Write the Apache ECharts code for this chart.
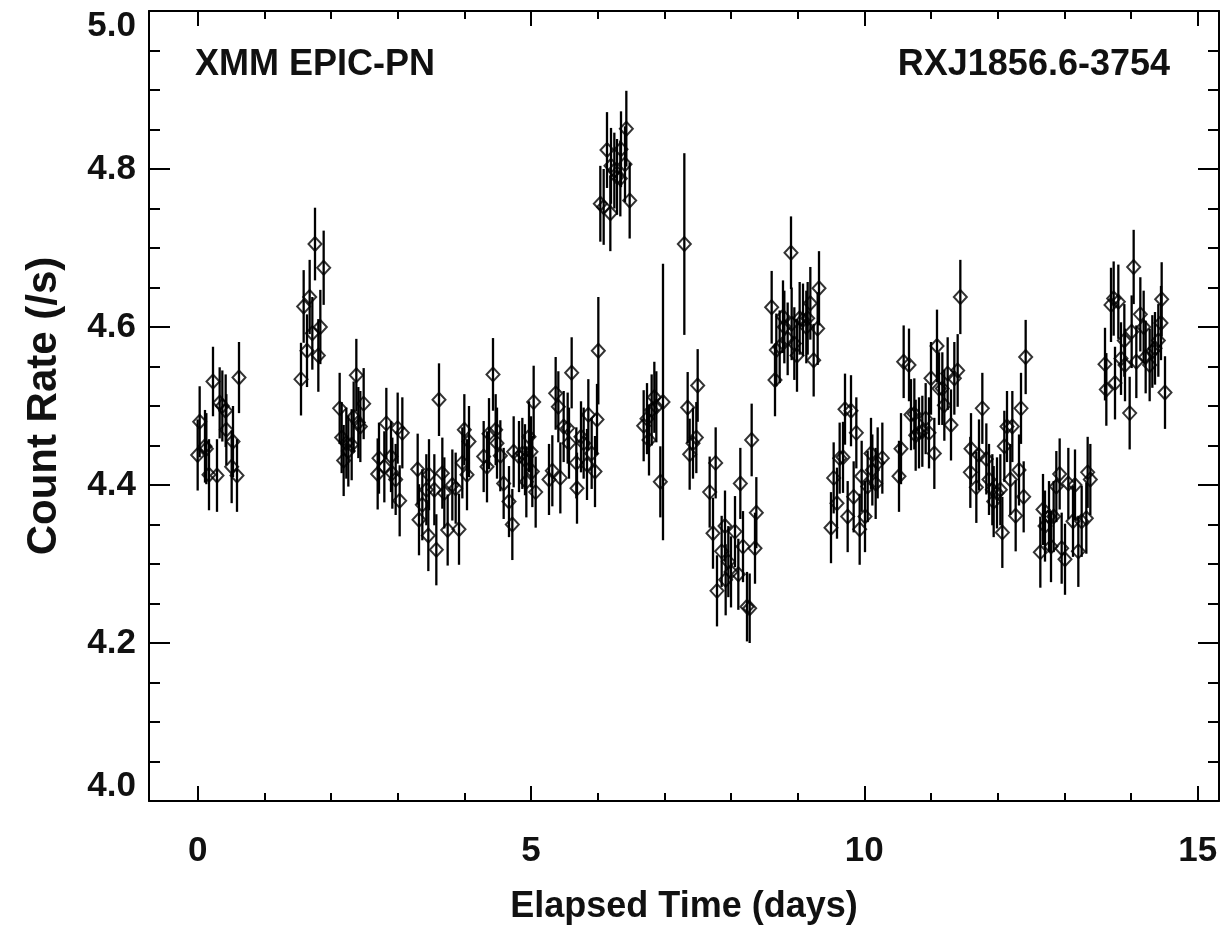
<!DOCTYPE html>
<html>
<head>
<meta charset="utf-8">
<script src="https://cdn.jsdelivr.net/npm/echarts@6/dist/echarts.min.js"></script>
<style>
  html, body { margin: 0; padding: 0; background: #fff; }
  #main { width: 1223px; height: 926px; }
</style>
</head>
<body>
<div id="main"></div>
<script>
// elapsed time (days), count rate (/s) and 1-sigma error
const elapsedDays = [
  0.00, 0.03, 0.11, 0.13, 0.17, 0.23, 0.29, 0.33, 0.37, 0.42, 0.43, 0.51, 0.53, 0.59, 0.62,
  1.55, 1.59, 1.64, 1.68, 1.72, 1.76, 1.81, 1.84, 1.89,
  2.13, 2.16, 2.19, 2.23, 2.26, 2.31, 2.34, 2.38, 2.41, 2.44, 2.49,
  2.70, 2.72, 2.80, 2.83, 2.90, 2.92, 2.97, 3.00, 3.03, 3.07,
  3.30, 3.32, 3.37, 3.43, 3.46, 3.47, 3.55, 3.58, 3.62, 3.67, 3.70, 3.75, 3.82, 3.87, 3.92, 3.97, 4.00, 4.04, 4.07,
  4.29, 4.34, 4.37, 4.43, 4.47, 4.49, 4.54, 4.59, 4.67, 4.72, 4.74, 4.82, 4.87, 4.91, 4.93, 4.97, 5.00, 5.02, 5.04, 5.07,
  5.27, 5.32, 5.37, 5.41, 5.44, 5.49, 5.55, 5.57, 5.61, 5.68, 5.69, 5.75, 5.79, 5.84, 5.86, 5.91, 5.96, 5.99, 6.01,
  6.04, 6.09, 6.14, 6.19, 6.20, 6.25, 6.29, 6.34, 6.35, 6.41, 6.43, 6.48,
  6.69, 6.74, 6.77, 6.81, 6.85, 6.88, 6.94, 6.98,
  7.30, 7.35, 7.38, 7.43, 7.48, 7.50,
  7.68, 7.73, 7.77, 7.79, 7.86, 7.91, 7.92, 7.96, 8.00, 8.06, 8.11, 8.14, 8.18, 8.24, 8.28, 8.31, 8.36, 8.38,
  8.61, 8.66, 8.68, 8.73, 8.78, 8.80, 8.85, 8.90, 8.91, 8.95, 8.99, 9.03, 9.08, 9.13, 9.15, 9.19, 9.24, 9.30, 9.32,
  9.50, 9.54, 9.59, 9.63, 9.68, 9.71, 9.75, 9.80, 9.84, 9.88, 9.93, 9.96, 10.01, 10.05, 10.10, 10.12, 10.17, 10.20, 10.27,
  10.52, 10.55, 10.59, 10.67, 10.70, 10.75, 10.77, 10.82, 10.87, 10.92, 10.97, 11.00, 11.05, 11.09, 11.12, 11.17, 11.20, 11.25, 11.30, 11.35, 11.40, 11.44,
  11.59, 11.60, 11.68, 11.72, 11.77, 11.83, 11.87, 11.92, 11.94, 11.99, 12.04, 12.07, 12.10, 12.14, 12.19, 12.22, 12.27, 12.32, 12.35, 12.39, 12.42,
  12.64, 12.68, 12.71, 12.77, 12.80, 12.84, 12.88, 12.93, 12.96, 13.01, 13.06, 13.13, 13.16, 13.21, 13.26, 13.33, 13.35, 13.39,
  13.61, 13.63, 13.70, 13.74, 13.76, 13.81, 13.85, 13.90, 13.91, 13.98, 14.01, 14.04, 14.08, 14.14, 14.19, 14.22, 14.28, 14.32, 14.36, 14.41, 14.45, 14.46, 14.51
];

const countRate = [
  4.438, 4.480, 4.449, 4.446, 4.413, 4.531, 4.412, 4.504, 4.500, 4.494, 4.470, 4.423, 4.455, 4.412, 4.536,
  4.534, 4.626, 4.570, 4.638, 4.592, 4.705, 4.564, 4.600, 4.675,
  4.497, 4.460, 4.431, 4.453, 4.443, 4.451, 4.486, 4.539, 4.479, 4.474, 4.503,
  4.414, 4.434, 4.423, 4.478, 4.436, 4.415, 4.407, 4.472, 4.380, 4.466,
  4.420, 4.356, 4.375, 4.394, 4.336, 4.413, 4.394, 4.318, 4.508, 4.415, 4.390, 4.343, 4.400, 4.396, 4.344, 4.428, 4.470, 4.413, 4.455,
  4.436, 4.423, 4.465, 4.540, 4.470, 4.453, 4.437, 4.402, 4.379, 4.350, 4.442, 4.436, 4.440, 4.432, 4.404, 4.461, 4.442, 4.417, 4.505, 4.391,
  4.407, 4.418, 4.516, 4.499, 4.409, 4.474, 4.472, 4.453, 4.542, 4.428, 4.396, 4.461, 4.453, 4.426, 4.489, 4.440, 4.417, 4.483, 4.570,
  4.756, 4.752, 4.824, 4.744, 4.804, 4.798, 4.790, 4.788, 4.825, 4.806, 4.851, 4.760,
  4.475, 4.484, 4.457, 4.495, 4.511, 4.499, 4.404, 4.505,
  4.705, 4.498, 4.439, 4.453, 4.460, 4.526,
  4.391, 4.339, 4.428, 4.266, 4.316, 4.348, 4.280, 4.303, 4.290, 4.341, 4.287, 4.402, 4.322, 4.246, 4.244, 4.457, 4.320, 4.365,
  4.625, 4.533, 4.571, 4.575, 4.613, 4.600, 4.585, 4.694, 4.604, 4.579, 4.564, 4.611, 4.609, 4.600, 4.611, 4.630, 4.558, 4.598, 4.649,
  4.346, 4.409, 4.377, 4.434, 4.435, 4.496, 4.360, 4.494, 4.385, 4.466, 4.344, 4.411, 4.360, 4.398, 4.440, 4.419, 4.402, 4.428, 4.434,
  4.411, 4.446, 4.556, 4.552, 4.489, 4.490, 4.463, 4.466, 4.468, 4.484, 4.466, 4.535, 4.440, 4.576, 4.522, 4.522, 4.501, 4.541, 4.476, 4.535, 4.545, 4.638,
  4.416, 4.446, 4.397, 4.438, 4.497, 4.433, 4.407, 4.394, 4.379, 4.390, 4.394, 4.340, 4.449, 4.474, 4.407, 4.474, 4.361, 4.419, 4.497, 4.385, 4.562,
  4.315, 4.369, 4.348, 4.360, 4.322, 4.360, 4.398, 4.414, 4.320, 4.306, 4.402, 4.354, 4.400, 4.316, 4.354, 4.358, 4.416, 4.407,
  4.553, 4.521, 4.628, 4.636, 4.529, 4.632, 4.560, 4.583, 4.552, 4.491, 4.594, 4.676, 4.556, 4.616, 4.600, 4.562, 4.552, 4.569, 4.573, 4.583, 4.605, 4.635, 4.517
];

const rateErr = [
  0.045, 0.045, 0.046, 0.045, 0.045, 0.044, 0.046, 0.045, 0.045, 0.046, 0.045, 0.046, 0.045, 0.046, 0.045,
  0.046, 0.046, 0.046, 0.047, 0.046, 0.046, 0.046, 0.047, 0.047,
  0.045, 0.045, 0.045, 0.045, 0.045, 0.045, 0.045, 0.046, 0.045, 0.045, 0.045,
  0.045, 0.045, 0.045, 0.045, 0.045, 0.045, 0.045, 0.045, 0.045, 0.045,
  0.045, 0.045, 0.045, 0.045, 0.045, 0.045, 0.045, 0.045, 0.046, 0.045, 0.045, 0.045, 0.045, 0.045, 0.045, 0.045, 0.045, 0.045, 0.045,
  0.045, 0.045, 0.045, 0.046, 0.045, 0.045, 0.045, 0.045, 0.045, 0.045, 0.045, 0.045, 0.045, 0.045, 0.045, 0.045, 0.045, 0.045, 0.046, 0.045,
  0.045, 0.045, 0.046, 0.045, 0.045, 0.045, 0.045, 0.045, 0.045, 0.045, 0.045, 0.045, 0.045, 0.045, 0.045, 0.045, 0.045, 0.045, 0.068,
  0.048, 0.048, 0.048, 0.048, 0.048, 0.048, 0.048, 0.048, 0.048, 0.048, 0.048, 0.048,
  0.045, 0.045, 0.045, 0.045, 0.045, 0.045, 0.045, 0.175,
  0.115, 0.045, 0.045, 0.045, 0.045, 0.046,
  0.045, 0.045, 0.045, 0.045, 0.045, 0.045, 0.045, 0.045, 0.045, 0.045, 0.045, 0.045, 0.045, 0.044, 0.044, 0.046, 0.045, 0.045,
  0.046, 0.046, 0.046, 0.046, 0.046, 0.046, 0.046, 0.046, 0.046, 0.046, 0.046, 0.046, 0.046, 0.046, 0.046, 0.046, 0.046, 0.046, 0.047,
  0.045, 0.045, 0.045, 0.045, 0.045, 0.045, 0.045, 0.045, 0.045, 0.045, 0.045, 0.045, 0.045, 0.045, 0.045, 0.045, 0.045, 0.045, 0.045,
  0.045, 0.045, 0.046, 0.046, 0.045, 0.045, 0.045, 0.045, 0.045, 0.045, 0.045, 0.046, 0.045, 0.046, 0.046, 0.046, 0.045, 0.046, 0.045, 0.046, 0.046, 0.047,
  0.045, 0.045, 0.045, 0.045, 0.045, 0.045, 0.045, 0.045, 0.045, 0.045, 0.045, 0.045, 0.045, 0.045, 0.045, 0.045, 0.045, 0.045, 0.045, 0.045, 0.047,
  0.045, 0.045, 0.045, 0.045, 0.045, 0.045, 0.045, 0.045, 0.045, 0.045, 0.045, 0.045, 0.045, 0.045, 0.045, 0.045, 0.045, 0.045,
  0.046, 0.046, 0.047, 0.047, 0.046, 0.047, 0.046, 0.046, 0.046, 0.046, 0.046, 0.047, 0.046, 0.047, 0.046, 0.046, 0.046, 0.046, 0.046, 0.046, 0.047, 0.047, 0.046
];

const majorDays = [0, 5, 10, 15];
const minorDays = [1, 2, 3, 4, 6, 7, 8, 9, 11, 12, 13, 14];

const FONT = '"Liberation Sans", Arial, Helvetica, sans-serif';
const INK = '#111';

const points = elapsedDays.map((t, i) => [t, countRate[i]]);
const bars = elapsedDays.map((t, i) => [t, countRate[i] - rateErr[i], countRate[i] + rateErr[i]]);

function renderErrorBar(params, api) {
  const lo = api.coord([api.value(0), api.value(1)]);
  const hi = api.coord([api.value(0), api.value(2)]);
  return {
    type: 'line',
    shape: { x1: lo[0], y1: lo[1], x2: hi[0], y2: hi[1] },
    style: { stroke: '#000', lineWidth: 2.3 }
  };
}

function timeAxis(position, ticks, len, opts) {
  return Object.assign({
    type: 'value',
    position: position,
    min: -0.73,
    max: 15.32,
    splitLine: { show: false },
    axisLine: { show: false },
    axisTick: { show: true, inside: true, length: len, customValues: ticks, lineStyle: { color: '#000', width: 2 } },
    axisLabel: { show: false }
  }, opts || {});
}

function rateAxis(position, opts) {
  return Object.assign({
    type: 'value',
    position: position,
    min: 4.0,
    max: 5.0,
    interval: 0.2,
    splitLine: { show: false },
    axisLine: { show: true, onZero: false, lineStyle: { color: '#000', width: 2 } },
    axisTick: { inside: true, length: 21, lineStyle: { color: '#000', width: 2 } },
    minorTick: { show: true, splitNumber: 4, length: 11, lineStyle: { color: '#000', width: 2 } },
    axisLabel: { show: false }
  }, opts || {});
}

const chart = echarts.init(document.getElementById('main'));

chart.setOption({
  animation: false,
  backgroundColor: '#fff',
  grid: { left: 149, right: 4, top: 11, bottom: 125, containLabel: false, outerBoundsMode: 'none' },
  title: [
    { text: 'XMM EPIC-PN', left: 190, top: 42,
      textStyle: { fontFamily: FONT, fontWeight: 'bold', fontSize: 36, color: INK } },
    { text: 'RXJ1856.6-3754', right: 48, top: 42,
      textStyle: { fontFamily: FONT, fontWeight: 'bold', fontSize: 36, color: INK } }
  ],
  xAxis: [
    timeAxis('bottom', majorDays, 15, {
      axisLine: { show: true, onZero: false, lineStyle: { color: '#000', width: 2 } },
      axisLabel: {
        show: true, customValues: majorDays, margin: 33,
        fontFamily: FONT, fontWeight: 'bold', fontSize: 35, color: INK
      },
      name: 'Elapsed Time (days)',
      nameLocation: 'middle',
      nameGap: 88,
      nameMoveOverlap: false,
      nameTextStyle: { fontFamily: FONT, fontWeight: 'bold', fontSize: 36, color: INK }
    }),
    timeAxis('bottom', minorDays, 8),
    timeAxis('top', majorDays, 15, {
      axisLine: { show: true, onZero: false, lineStyle: { color: '#000', width: 2 } }
    }),
    timeAxis('top', minorDays, 8)
  ],
  yAxis: [
    rateAxis('left', {
      axisLabel: {
        margin: 13, formatter: v => v.toFixed(1), lineHeight: 30,
        verticalAlignMinLabel: 'bottom', verticalAlignMaxLabel: 'top',
        fontFamily: FONT, fontWeight: 'bold', fontSize: 35, color: INK
      },
      name: 'Count Rate (/s)',
      nameLocation: 'middle',
      nameGap: 84,
      nameMoveOverlap: false,
      nameTextStyle: { fontFamily: FONT, fontWeight: 'bold', fontSize: 42, color: INK }
    }),
    rateAxis('right')
  ],
  series: [
    {
      type: 'custom',
      name: 'error',
      xAxisIndex: 0,
      yAxisIndex: 0,
      renderItem: renderErrorBar,
      encode: { x: 0, y: [1, 2] },
      data: bars,
      z: 2
    },
    {
      type: 'scatter',
      name: 'rate',
      xAxisIndex: 0,
      yAxisIndex: 0,
      symbol: 'diamond',
      symbolSize: [13, 14],
      itemStyle: { color: 'rgba(0,0,0,0)', borderColor: '#000', borderWidth: 2 },
      data: points,
      z: 3
    }
  ]
});
</script>
</body>
</html>
